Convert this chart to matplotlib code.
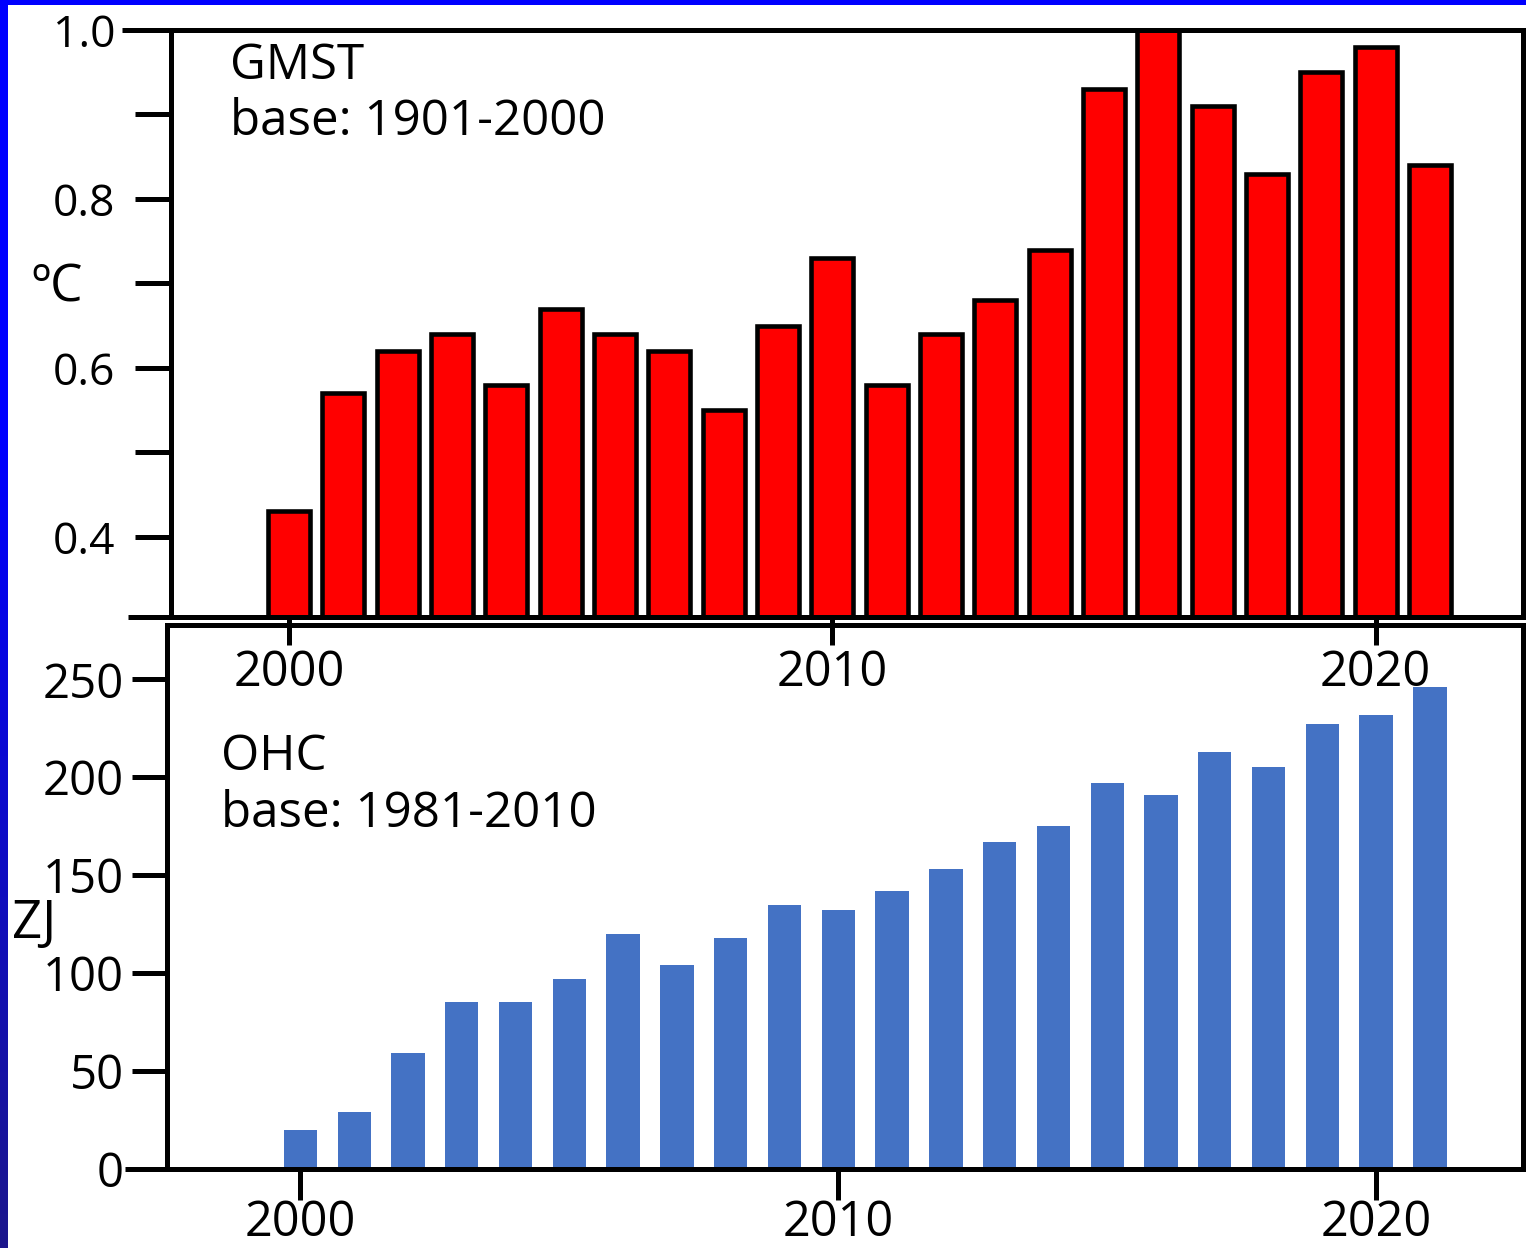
import numpy as np
import matplotlib
matplotlib.use("Agg")
import matplotlib.pyplot as plt
from matplotlib.patches import Rectangle
from matplotlib.ticker import FixedLocator

plt.rcParams['font.family'] = ['Open Sans', 'DejaVu Sans']

years = list(range(2000, 2022))
gmst = [0.43, 0.57, 0.62, 0.64, 0.58, 0.67, 0.64, 0.62, 0.55, 0.65, 0.73,
        0.58, 0.64, 0.68, 0.74, 0.93, 1.00, 0.91, 0.83, 0.95, 0.98, 0.84]
ohc = [20, 29, 59, 85, 85, 97, 120, 104, 118, 135, 132,
       142, 153, 167, 175, 197, 191, 213, 205, 227, 232, 246]
gmst_ticks = [0.4, 0.6, 0.8, 1.0]
gmst_ticklabels = ["0.4", "0.6", "0.8", "1.0"]
ohc_ticks = [0, 50, 100, 150, 200, 250]
year_ticks = [2000, 2010, 2020]

W, H = 1526, 1248
fig = plt.figure(figsize=(W / 100, H / 100), dpi=100)

# slide background: blue gradient frame
bg = fig.add_axes([0, 0, 1, 1], zorder=-10)
rows = np.linspace(0, 1, 256)
top_c = np.array([0.0, 0.0, 1.0])
bot_c = np.array([0.11, 0.09, 0.55])
t = np.clip((rows - 0.35) / 0.65, 0, 1)[:, None]
grad = (1 - t) * top_c + t * bot_c
bg.imshow(grad[:, None, :], aspect='auto', extent=[0, 1, 0, 1], origin='upper')
bg.add_patch(Rectangle((8 / W, 0), 1, 1 - 5 / H, transform=bg.transAxes,
                       facecolor='white', edgecolor='none'))
bg.set_xlim(0, 1); bg.set_ylim(0, 1)
bg.axis('off')

LW = 3.6
# ---------------- bottom panel (OHC) ----------------
l2, r2, t2, b2 = 167, 1523, 625, 1169
ax2 = fig.add_axes([l2 / W, 1 - b2 / H, (r2 - l2) / W, (b2 - t2) / H], zorder=1)
ax2.bar(years, ohc, width=0.62, color='#4472C4', edgecolor='none')
ax2.set_xlim(1997.52, 2022.73)
ax2.set_ylim(0, 277.7)
ax2.set_yticks(ohc_ticks)
ax2.set_xticks(year_ticks)
for s in ax2.spines.values():
    s.set_linewidth(LW)
ax2.tick_params(axis='y', direction='out', length=25, width=LW, labelsize=34, pad=6)
ax2.tick_params(axis='x', direction='out', length=22, width=LW, labelsize=35, pad=-1)
ax2.plot([-0.031, 0], [0, 0], color='black', lw=LW, transform=ax2.transAxes,
         clip_on=False, solid_capstyle='butt')
ax2.text(0.04, 0.803, "OHC\nbase: 1981-2010", transform=ax2.transAxes,
         fontsize=35.5, va='top', ha='left', linespacing=1.2)

# ---------------- top panel (GMST) ----------------
l1, r1, t1, b1 = 171, 1523, 30, 617
ax1 = fig.add_axes([l1 / W, 1 - b1 / H, (r1 - l1) / W, (b1 - t1) / H], zorder=2)
ax1.set_facecolor('none')
ymin1 = 0.305
ax1.bar(years, np.array(gmst) - ymin1, bottom=ymin1, width=0.77, color='#FF0000',
        edgecolor='black', linewidth=3.3, clip_on=False, zorder=3)
ax1.set_xlim(1997.83, 2022.71)
ax1.set_ylim(ymin1, 1.0)
ax1.yaxis.set_major_locator(FixedLocator(gmst_ticks))
ax1.set_yticklabels(gmst_ticklabels)
ax1.yaxis.set_minor_locator(FixedLocator([0.5, 0.7, 0.9]))
ax1.set_xticks(year_ticks)
for s in ax1.spines.values():
    s.set_linewidth(LW)
    s.set_zorder(4)
ax1.tick_params(axis='y', which='both', direction='out', length=26, width=LW,
                labelsize=32, pad=14)
ax1.tick_params(axis='x', direction='out', length=20, width=LW, labelsize=35, pad=3)
ax1.plot([-0.036, 0], [1, 1], color='black', lw=LW, transform=ax1.transAxes,
         clip_on=False, solid_capstyle='butt')
ax1.plot([-0.032, 0], [0, 0], color='black', lw=LW, transform=ax1.transAxes,
         clip_on=False, solid_capstyle='butt')
ax1.text(0.044, 0.98, "GMST\nbase: 1901-2000", transform=ax1.transAxes,
         fontsize=35.5, va='top', ha='left', linespacing=1.17)

fig.text(57 / W, 1 - 288 / H, "ºC", fontsize=37, ha='center', va='center')
fig.text(34 / W, 1 - 924 / H, "ZJ", fontsize=38, ha='center', va='center')

fig.savefig("out.png", dpi=100)
